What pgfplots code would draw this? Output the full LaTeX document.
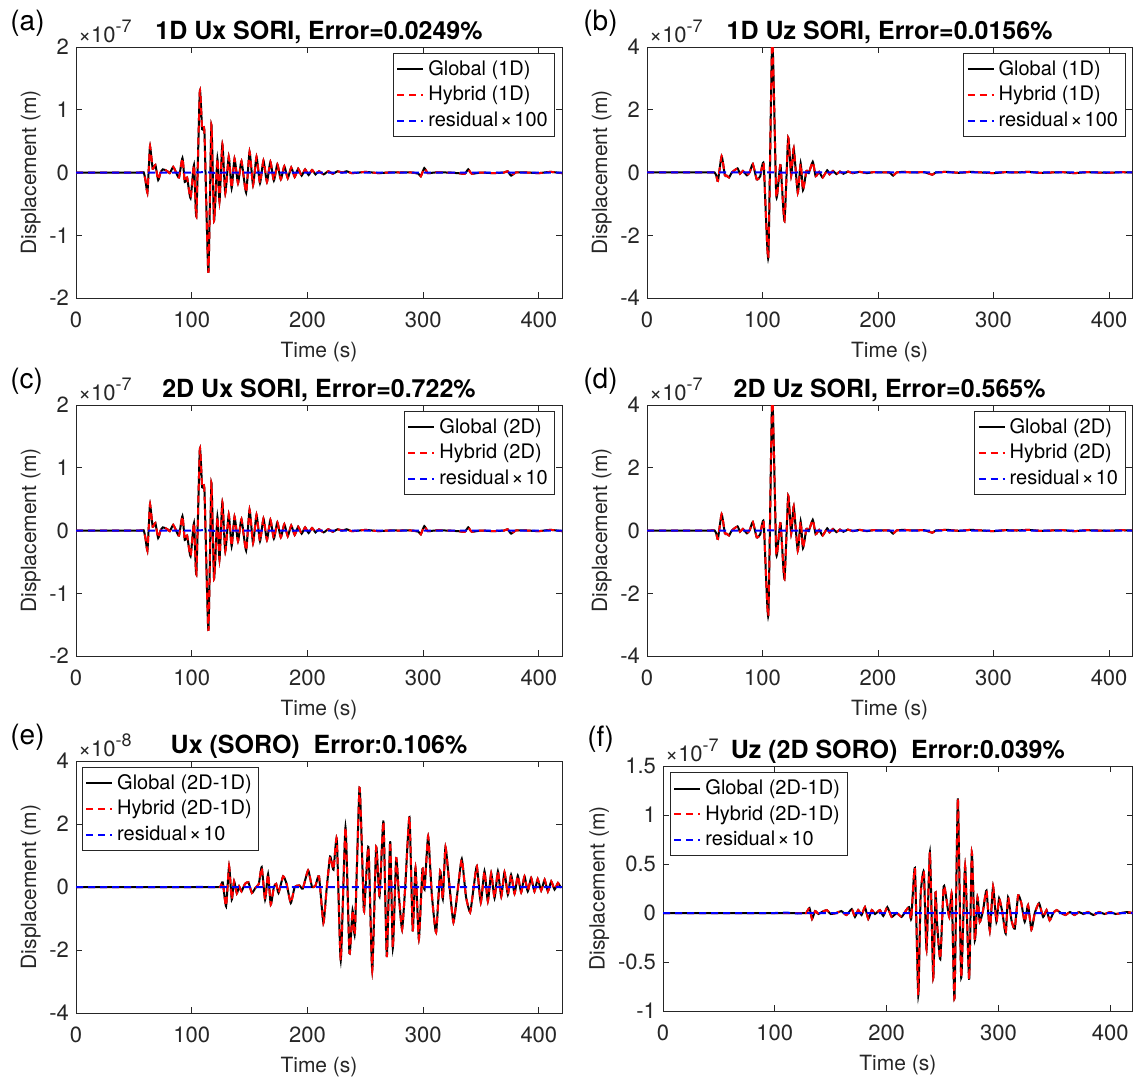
\documentclass[border=0pt]{standalone}
\usepackage{fontspec}
\setmainfont{TeX Gyre Heros}
\usepackage{pgfplots}
\usepackage{pgfplotstable}
\pgfplotsset{compat=1.18}
\definecolor{axcol}{RGB}{38,38,38}

\pgfplotstableread{
t v
0 0
55 0
58.5 0
60 -0.12
61.7 -0.32
63 0.1
64 0.42
66.3 0.06
68.6 0.12
71 -0.12
73 0.0
75 0.05
77 0.04
79 0.02
81 -0.01
84 0.09
86.5 0.0
89 -0.08
92 0.23
94 -0.15
96 -0.08
99 -0.41
102 0.12
104 -0.70
107 1.30
109 0.69
111 0.64
114.4 -1.60
117 0.76
119.3 -0.77
122.2 0.22
124 -0.46
126.5 0.45
129 -0.33
132 0.25
134.5 -0.25
137 0.22
140 -0.17
143 0.18
147 -0.32
150 0.33
153 -0.2
156 0.25
159 -0.17
162 0.19
165 -0.15
168 0.17
171 -0.13
174 0.13
177 -0.11
180 0.1
183 -0.09
186 0.08
189 -0.07
192 0.06
195 -0.05
198 0.05
201 -0.04
204 0.04
207 -0.03
210 0.02
214 -0.03
218 0.02
222 -0.02
226 0.02
230 0.0
234 0.02
238 -0.01
245 0.0
250 0.01
256 0.0
262 -0.01
270 0.0
280 0.0
290 0.0
296 -0.02
298 -0.06
301 0.07
304 -0.01
310 0.0
320 0.0
330 -0.01
336 -0.02
339 0.05
342 -0.02
350 0.0
360 -0.01
370 0.0
373 0.02
376 -0.05
380 0.0
390 0.0
400 -0.01
410 0.01
420 -0.01
}\dataA

\pgfplotstableread{
t v
0 0
55 0
58.5 0
60 -0.1
61.4 -0.27
64.6 0.52
67.4 -0.09
69 -0.1
71 -0.16
73 -0.02
75 0.05
78.4 0.13
80.5 -0.04
83 0.05
86.5 -0.09
89 0.02
91.6 0.27
95 -0.22
98 -0.12
101 0.27
105 -2.71
108.4 4.3
111.8 -0.67
113.5 -0.4
115.6 0.23
119 -1.54
122.2 1.11
124.8 -0.1
127 0.77
130.5 -0.64
133 0.29
135 -0.56
138 0.05
140 -0.02
143.5 0.34
146 -0.12
149 0.02
152 -0.16
156 0.07
158 -0.06
161 0.05
164 -0.05
167 0.03
170 -0.04
174 0.03
178 -0.02
184 0.02
190 -0.02
196 0.01
205 0.0
210 0.0
213 -0.1
216 0.0
222 0.02
230 0.0
240 0.01
247 -0.07
250 0.0
260 0.02
270 -0.01
280 0.02
290 0.0
300 -0.02
310 0.01
320 0.0
330 0.02
340 -0.01
350 0.0
360 0.01
370 -0.02
380 0.01
390 0.0
400 -0.01
410 0.01
420 0
}\dataB

\pgfplotstableread{
t v
0 0
120 0
124.5 0
126.8 0.15
129.7 -0.61
132.3 0.66
134.6 -0.4
136.6 0.18
139 -0.2
141 0.02
143 -0.14
146 0.1
149 0.15
152 -0.19
155 -0.03
158 0.1
160.5 0.63
163.4 -0.4
166 0.41
168.3 -0.56
171 0.0
173 0.1
175 -0.19
179 0.34
182 0.1
185.6 -0.51
189 0.0
193 0.05
196 -0.05
200.6 0.53
204 0.0
207 0.05
210 0.34
213.8 -1.14
216.5 -0.1
219.6 0.97
222.5 0.55
225.4 1.52
228.8 -2.33
232.9 1.9
236.3 -2.1
239 -0.74
241 -1.46
245 3.15
247.8 0.34
249 -0.77
252.7 1.27
256 -2.65
259.4 1.27
262.3 -0.3
265.7 2.08
268.6 -2.22
271.5 1.45
273.8 -1.94
276.7 0.92
279 -0.25
281.8 -1.35
284.5 0.0
288.2 2.22
291 -1.38
293.4 0.6
296.3 -1.65
299.4 0.57
301.2 -0.08
304.3 1.61
307.5 -0.24
311.2 -1.44
314.7 0.5
317 -0.38
319.3 1.27
322.8 0.02
326.2 -1.12
330 -0.06
333.4 0.89
337 -0.3
340.6 -0.8
343.6 -0.03
346.4 0.66
349.8 -0.49
353 0.5
355.9 -0.45
358.8 0.44
361.7 -0.35
364.6 0.5
367.5 -0.3
370.3 0.47
373.2 -0.24
376 0.39
379 -0.21
381.8 0.36
384.7 -0.17
387.6 0.34
390.4 -0.14
393.3 0.29
396.2 -0.14
399 0.25
402 -0.11
405 0.23
407.8 -0.14
410.7 0.18
413.6 -0.08
416.5 0.13
419 -0.03
}\dataE

\pgfplotstableread{
t v
0 0
120 0
125.6 0
128 0.0
131 0.05
133.3 -0.06
136 0.02
139 -0.01
142 0.01
146.4 0.03
150 -0.01
155 0.0
159.5 0.02
164 -0.02
168.8 0.04
171.7 -0.04
174.6 0.03
177.6 -0.02
180.6 0.06
183.6 -0.06
186.7 0.03
189.6 -0.01
194 0.03
197 -0.03
200.6 0.06
204.5 -0.04
209 0.0
213.4 -0.04
217 0.02
220 0.06
222 -0.06
225.3 0.46
228.3 -0.84
230.4 0.18
233.3 0.42
235.7 -0.37
238.7 0.62
241.7 -0.66
243.7 0.21
245.2 -0.12
248 -0.47
251 0.27
253.4 0.15
256 -0.04
258.3 0.19
260.7 -0.87
263.7 1.17
266.7 -0.66
270.2 0.48
273.8 -0.68
276.2 0.62
278.9 -0.28
281.3 0.16
283.3 -0.09
286.3 0.03
289.3 0.23
292.3 -0.18
295.2 0.27
298.2 -0.09
300.6 0.15
303.6 0.0
306.5 -0.21
308.6 0.16
311.6 -0.07
314.6 -0.16
317.6 0.18
320.5 0.1
323.5 -0.09
326.5 0.08
329.5 -0.17
332.5 0.0
336.3 0.1
340 -0.04
343 0.03
345.8 -0.075
349 0.0
352 0.03
356 0.0
360 -0.02
364 0.01
368 -0.02
372 0.01
376 -0.01
380 0.01
385 -0.02
390 0.01
395 -0.01
400 0.01
405 -0.01
410 0.0
415 0.01
420 0
}\dataF

\pgfplotstableread{
t v
0 0
100 0
110 0.005
120 -0.005
130 0
420 0
}\resid

\pgfplotsset{
  sp/.style={
    scale only axis, width=243pt, height=125.5pt,
    xmin=0, xmax=420, xtick={0,100,200,300,400},
    axis line style={color=axcol, line width=0.4pt},
    tick style={color=axcol, line width=0.4pt},
    major tick length=3pt,
    tick align=inside,
    ticklabel style={font=\fontsize{11}{13}\selectfont, color=axcol},
    xticklabel style={yshift=-3.5pt},
    label style={font=\fontsize{10.5}{12}\selectfont, color=axcol},
    xlabel={Time (s)}, ylabel={Displacement (m)},
    ylabel shift=-2.5pt,
    every axis title/.style={font=\fontsize{12.5}{14}\selectfont\bfseries, at={(0.5,1)}, anchor=base, yshift=4pt},
    legend style={font=\fontsize{10}{12}\selectfont, draw=axcol, line width=0.4pt, inner sep=1.5pt, cells={anchor=west}},
    legend image code/.code={\draw[##1] (0pt,0pt) -- (13pt,0pt);},
    /pgf/number format/assume math mode=true,
  },
  glob/.style={black, line width=1pt, smooth, tension=0.3},
  hyb/.style={red, line width=1pt, dash pattern=on 3.5pt off 2.5pt, smooth, tension=0.3},
  resid/.style={blue, line width=1pt, dash pattern=on 3.5pt off 2.5pt},
}
\newcommand{\expo}[2]{\node[anchor=base west, color=axcol, inner sep=0pt] at ([xshift=1pt,yshift=2.5pt]#1.north west) {\fontsize{11}{13}\selectfont ×10\raisebox{0.8ex}{\fontsize{9}{10}\selectfont #2}};}
\newcommand{\rx}{\kern1pt{\fontsize{10.5}{12}\selectfont ×}\kern1pt}

\begin{document}
\begin{tikzpicture}
\useasboundingbox (0,0) rectangle (566.5pt,-538.5pt);

\node[anchor=west, font=\fontsize{14}{16}\selectfont, inner sep=0pt] at (5pt,-11.5pt) {(a)};
\node[anchor=west, font=\fontsize{14}{16}\selectfont, inner sep=0pt] at (291.5pt,-11.5pt) {(b)};
\node[anchor=west, font=\fontsize{14}{16}\selectfont, inner sep=0pt] at (5pt,-190.5pt) {(c)};
\node[anchor=west, font=\fontsize{14}{16}\selectfont, inner sep=0pt] at (291.5pt,-190.5pt) {(d)};
\node[anchor=west, font=\fontsize{14}{16}\selectfont, inner sep=0pt] at (5pt,-368.5pt) {(e)};
\node[anchor=west, font=\fontsize{14}{16}\selectfont, inner sep=0pt] at (293.5pt,-369.5pt) {(f)};

% (a)
\begin{axis}[sp, name=pa, at={(38pt,-23.5pt)}, anchor=north west,
  ymin=-2, ymax=2, ytick={-2,-1,0,1,2},
  title={1D Ux SORI, Error=0.0249\%},
  legend style={at={(0.986,0.976)}, anchor=north east}]
\addplot[glob] table[x=t,y=v] {\dataA};
\addplot[hyb] table[x=t,y=v] {\dataA};
\addplot[resid] table[x=t,y=v] {\resid};
\legend{Global (1D), Hybrid (1D), residual\rx100}
\end{axis}
\expo{pa}{-7}

% (b)
\begin{axis}[sp, name=pb, at={(323.5pt,-23.5pt)}, anchor=north west, width=242.6pt,
  ymin=-4, ymax=4, ytick={-4,-2,0,2,4},
  title={1D Uz SORI, Error=0.0156\%},
  legend style={at={(0.986,0.976)}, anchor=north east}]
\addplot[glob] table[x=t,y=v] {\dataB};
\addplot[hyb] table[x=t,y=v] {\dataB};
\addplot[resid] table[x=t,y=v] {\resid};
\legend{Global (1D), Hybrid (1D), residual\rx100}
\end{axis}
\expo{pb}{-7}

% (c)
\begin{axis}[sp, name=pc, at={(38pt,-202.5pt)}, anchor=north west,
  ymin=-2, ymax=2, ytick={-2,-1,0,1,2},
  title={2D Ux SORI, Error=0.722\%},
  legend style={at={(0.986,0.976)}, anchor=north east}]
\addplot[glob] table[x=t,y=v] {\dataA};
\addplot[hyb] table[x=t,y=v] {\dataA};
\addplot[resid] table[x=t,y=v] {\resid};
\legend{Global (2D), Hybrid (2D), residual\rx10}
\end{axis}
\expo{pc}{-7}

% (d)
\begin{axis}[sp, name=pd, at={(323.5pt,-202.5pt)}, anchor=north west, width=242.6pt,
  ymin=-4, ymax=4, ytick={-4,-2,0,2,4},
  title={2D Uz SORI, Error=0.565\%},
  legend style={at={(0.986,0.976)}, anchor=north east}]
\addplot[glob] table[x=t,y=v] {\dataB};
\addplot[hyb] table[x=t,y=v] {\dataB};
\addplot[resid] table[x=t,y=v] {\resid};
\legend{Global (2D), Hybrid (2D), residual\rx10}
\end{axis}
\expo{pd}{-7}

% (e)
\begin{axis}[sp, name=pe, at={(38pt,-380.5pt)}, anchor=north west, height=126pt,
  ymin=-4, ymax=4, ytick={-4,-2,0,2,4},
  title={Ux (SORO)\ \ Error:0.106\%},
  legend style={at={(0.012,0.976)}, anchor=north west}]
\addplot[glob] table[x=t,y=v] {\dataE};
\addplot[hyb] table[x=t,y=v] {\dataE};
\addplot[resid] table[x=t,y=v] {\resid};
\legend{Global (2D-1D), Hybrid (2D-1D), residual\rx10}
\end{axis}
\expo{pe}{-8}

% (f)
\begin{axis}[sp, name=pf, at={(331.5pt,-383pt)}, anchor=north west, width=234.8pt, height=122.5pt,
  ymin=-1, ymax=1.5, ytick={-1,-0.5,0,0.5,1,1.5},
  title={Uz (2D SORO)\ \ Error:0.039\%},
  legend style={at={(0.015,0.975)}, anchor=north west}]
\addplot[glob] table[x=t,y=v] {\dataF};
\addplot[hyb] table[x=t,y=v] {\dataF};
\addplot[resid] table[x=t,y=v] {\resid};
\legend{Global (2D-1D), Hybrid (2D-1D), residual\rx10}
\end{axis}
\expo{pf}{-7}
\end{tikzpicture}
\end{document}
